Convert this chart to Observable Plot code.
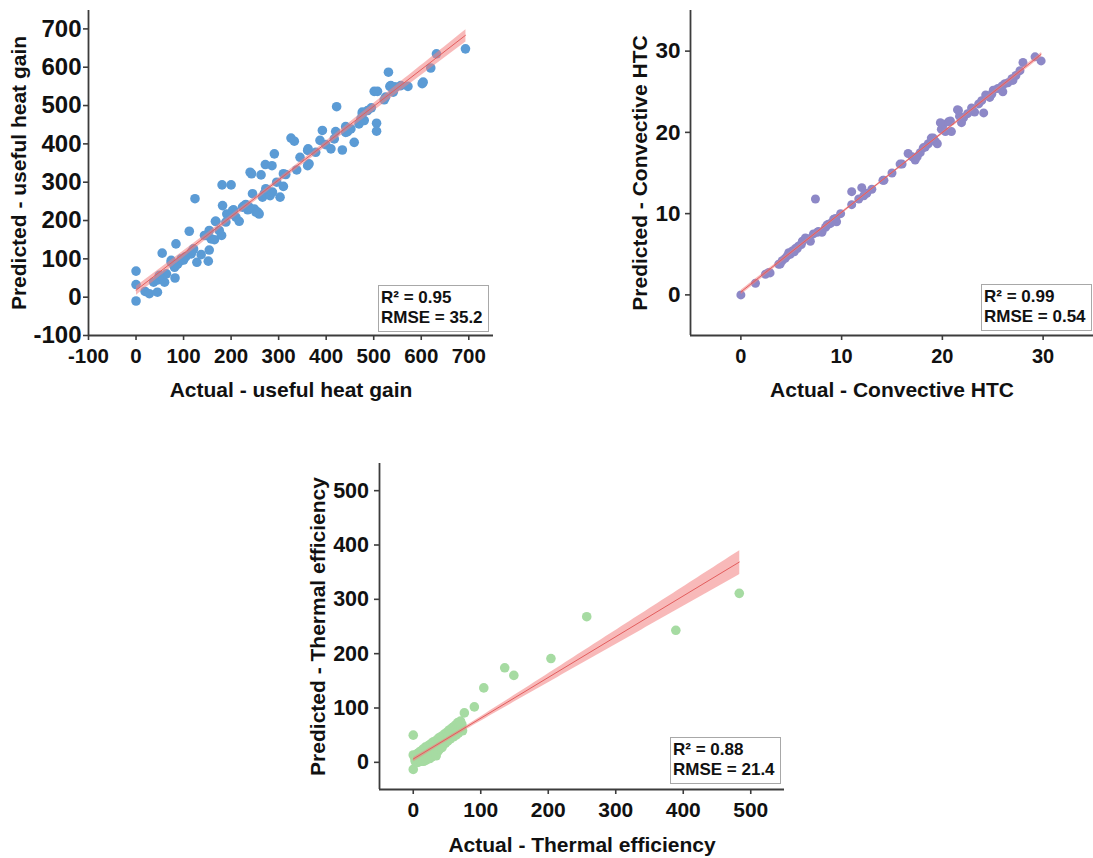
<!DOCTYPE html>
<html>
<head>
<meta charset="utf-8">
<script src="https://cdn.jsdelivr.net/npm/d3@7"></script>
<script src="https://cdn.jsdelivr.net/npm/@observablehq/plot@0.6"></script>
<style>
  html, body { margin: 0; padding: 0; background: #fff; }
  #figure { position: relative; width: 1093px; height: 858px; background: #fff; overflow: hidden; }
  .panel { position: absolute; }
  .panel svg { overflow: visible; }
  .stat {
    position: absolute; box-sizing: border-box; background: #fff;
    border: 1px solid #a8a8a8; padding: 2px 0 0 2px;
    font: bold 17px "Liberation Sans", Arial, sans-serif; line-height: 20px; color: #111;
    white-space: nowrap;
  }
</style>
</head>
<body>
<div id="figure"></div>
<script>
// Useful heat gain: actual vs predicted
const heatActual = [0, 0, 0, 19, 28, 45, 37, 46, 55, 51, 60, 64, 74, 82, 84, 81, 88, 95, 102, 100, 112, 116, 121, 124, 128, 137, 144, 152, 154, 154, 158, 165, 167, 175, 180, 182, 181, 189, 191, 200, 200, 205, 210, 217, 224, 231, 235, 240, 243, 245, 249, 252, 259, 263, 266, 270, 272, 277, 282, 286, 287, 291, 296, 303, 310, 315, 326, 333, 338, 345, 361, 361, 364, 378, 387, 392, 399, 410, 417, 420, 422, 434, 441, 445, 452, 459, 469, 473, 476, 480, 487, 495, 501, 508, 506, 506, 522, 525, 531, 534, 541, 546, 557, 572, 602, 604, 620, 632, 693,
  49, 74, 84, 95, 105, 116, 119, 147, 168, 203, 228, 238, 256, 273, 310, 543, 536, 476, 441, 362];
const heatPredicted = [68, 33, -10, 15, 9, 13, 39, 45, 115, 56, 39, 61, 91, 50, 139, 78, 87, 96, 104, 97, 172, 113, 126, 257, 91, 111, 161, 94, 123, 174, 152, 150, 198, 174, 161, 239, 293, 196, 217, 293, 217, 228, 209, 198, 235, 242, 228, 326, 322, 270, 230, 222, 217, 319, 261, 271, 346, 278, 265, 343, 274, 374, 300, 261, 289, 320, 415, 407, 332, 365, 383, 343, 348, 378, 409, 435, 398, 387, 413, 432, 497, 384, 445, 432, 439, 404, 452, 465, 478, 461, 487, 494, 537, 537, 454, 433, 515, 522, 587, 550, 535, 548, 552, 550, 557, 561, 598, 635, 648,
  57, 96, 83, 100, 106, 117, 122, 161, 198, 226, 239, 235, 222, 283, 322, 548, 552, 483, 430, 387];

// Convective heat transfer coefficient: actual vs predicted
const htcActual = [0, 1.45, 2.44, 2.77, 3.76, 4.1, 4.4, 4.75, 5.1, 5.4, 5.7, 6.1, 6.4, 6.9, 7.2, 7.4, 7.7, 8.05, 8.4, 8.7, 9.2, 9.5, 9.9, 11.0, 11.0, 11.7, 12.0, 12.2, 12.5, 13.0, 14.1, 15.0, 16.0, 16.6, 17.0, 17.3, 17.8, 18.1, 18.6, 18.9, 19.3, 19.5, 19.9, 20.1, 20.3, 20.6, 20.9, 21.5, 21.7, 21.9, 22.1, 22.9, 23.2, 23.6, 23.9, 24.1, 24.3, 24.7, 25.05, 25.5, 25.9, 26.0, 26.5, 26.9, 27.0, 27.7, 28.0, 29.2, 29.8,
  2.9, 3.9, 4.6, 4.9, 5.3, 5.6, 6.0, 6.7, 7.6, 8.55, 8.9, 9.4, 14.2, 21.6, 19.8, 20.8, 19.1, 15.8, 17.5, 18.3, 22.5, 24.9, 26.2, 27.3];
const htcPredicted = [0, 1.43, 2.54, 2.75, 3.77, 4.2, 4.5, 5.2, 5.4, 5.7, 6.0, 6.6, 7.0, 6.6, 7.5, 11.8, 7.8, 7.7, 8.3, 8.7, 9.3, 9.0, 10.0, 11.1, 12.7, 11.8, 13.2, 12.2, 12.5, 13.0, 14.1, 15.0, 16.1, 17.4, 17.0, 16.6, 17.5, 18.1, 18.6, 19.3, 18.9, 18.6, 20.4, 21.0, 20.1, 21.3, 20.1, 22.8, 22.0, 21.2, 21.8, 23.0, 22.5, 23.5, 23.9, 22.4, 24.6, 24.3, 25.2, 25.4, 25.7, 25.0, 26.1, 26.6, 26.4, 27.6, 28.6, 29.3, 28.8,
  2.7, 3.8, 4.8, 5.0, 5.3, 5.7, 6.2, 6.9, 7.7, 8.6, 8.8, 9.4, 14.1, 22.7, 21.2, 21.4, 19.3, 16.1, 17.0, 18.2, 22.3, 24.7, 26.0, 27.0];

// Thermal efficiency: actual vs predicted
const effActual = [0, 0, 0, 75.7, 90.5, 104.5, 135.5, 149, 204, 257, 389, 483,
  2.5, 4, 5.5, 6, 7.5, 8, 9.5, 10, 11, 12.5, 13, 14, 14.5, 16, 16.5, 17.5, 18, 19.5, 20, 21, 22.5, 23, 24, 25.5, 26, 27, 28.5, 29, 30, 31.5, 32, 33, 34.5, 35, 36, 37.5, 38, 39, 40.5, 41, 42, 43.5, 44, 45, 46, 47.5, 48, 49, 50.5, 51, 52, 53.5, 54, 55, 56.5, 57, 58, 59.5, 60, 61, 62, 63.5, 64, 65, 66, 67, 68.5, 69, 70, 71.5, 72, 73,
  3, 5, 6.5, 8.5, 9, 11.5, 12, 13.5, 15, 15.5, 17, 18.5, 19, 20.5, 21.5, 23.5, 24.5, 25, 26.5, 27.5, 28, 30.5, 31, 32.5, 34, 35.5, 36.5, 38.5, 40, 42.5];
const effPredicted = [50, 13.5, -13, 91, 102, 137, 174, 160, 191, 268, 243, 311,
  6, 11, 3, 16, 8, 1, 13, 20, 6, 2, 17, 24, 9, 4, 21, 13, 28, 7, 24, 17, 31, 11, 26, 20, 34, 15, 29, 23, 38, 19, 33, 27, 41, 24, 36, 30, 45, 27, 39, 34, 48, 31, 43, 37, 52, 35, 47, 41, 56, 39, 50, 45, 60, 43, 54, 48, 64, 47, 58, 52, 68, 50, 62, 56, 73, 54, 66, 60, 76, 63, 70, 58,
  2, 7, 0, 5, 10, 3, 12, 6, 10, 2, 8, 15, 4, 12, 9, 16, 7, 22, 14, 10, 20, 15, 27, 18, 12, 28, 20, 24, 30, 27];

const heatTicks = [-100, 0, 100, 200, 300, 400, 500, 600, 700];
const htcTicks = [0, 10, 20, 30];
const effTicks = [0, 100, 200, 300, 400, 500];

const FONT = '"Liberation Sans", Arial, Helvetica, sans-serif';
const SPINE = "#3c3c3c";

function scatterPanel(cfg) {
  const rows = cfg.actual.map((a, i) => ({actual: a, predicted: cfg.predicted[i]}));
  return Plot.plot({
    width: cfg.width,
    height: cfg.height,
    marginLeft: cfg.margin[0],
    marginTop: cfg.margin[1],
    marginRight: cfg.margin[2],
    marginBottom: cfg.margin[3],
    x: {domain: cfg.xDomain},
    y: {domain: cfg.yDomain},
    style: {fontFamily: FONT, fontWeight: "bold", color: "#111", background: "transparent", overflow: "visible"},
    marks: [
      Plot.dot(rows, {x: "actual", y: "predicted", r: cfg.r, fill: cfg.color, stroke: "none"}),
      Plot.linearRegressionY(rows, {x: "actual", y: "predicted", stroke: "#e35d5d", strokeWidth: 1, fill: "#f27f7f", fillOpacity: 0.55}),
      Plot.ruleX([cfg.xDomain[0]], {stroke: SPINE, strokeWidth: 1.8}),
      Plot.ruleY([cfg.yDomain[0]], {stroke: SPINE, strokeWidth: 1.8}),
      Plot.axisX(cfg.ticks, {tickSize: 5, tickPadding: 8, fontSize: cfg.xFont, fontWeight: "bold", label: null,
        tickFormat: d => String(d), stroke: SPINE, strokeWidth: 1.6, fill: "#111"}),
      Plot.axisY(cfg.ticks, {tickSize: 5, tickPadding: cfg.yPad, fontSize: cfg.yFont, fontWeight: "bold", label: null,
        tickFormat: d => String(d), stroke: SPINE, strokeWidth: 1.6, fill: "#111"}),
      Plot.text([cfg.xLabel], {text: d => d, frameAnchor: "bottom", textAnchor: "middle", lineAnchor: "middle",
        dy: cfg.xTitleDy, fontSize: 21, fontWeight: "bold", fill: "#111"}),
      Plot.text([cfg.yLabel], {text: d => d, frameAnchor: "left", textAnchor: "middle", lineAnchor: "middle",
        rotate: -90, dx: cfg.yTitleDx, fontSize: 21, fontWeight: "bold", fill: "#111"})
    ]
  });
}

function place(node, left, top) {
  const wrap = document.createElement("div");
  wrap.className = "panel";
  wrap.style.left = left + "px";
  wrap.style.top = top + "px";
  wrap.append(node);
  document.getElementById("figure").append(wrap);
}

function statBox(r2, rmse, left, top) {
  const box = document.createElement("div");
  box.className = "stat";
  box.style.left = left + "px";
  box.style.top = top + "px";
  box.style.width = "111px";
  box.style.height = "47px";
  box.innerHTML = "R\u00B2 = " + r2 + "<br>RMSE = " + rmse;
  document.getElementById("figure").append(box);
}

place(scatterPanel({
  actual: heatActual, predicted: heatPredicted, color: "#5b9bd5", r: 4.8,
  width: 500, height: 410, margin: [88, 10, 7, 75],
  xDomain: [-100, 752], yDomain: [-100, 748], ticks: heatTicks,
  xFont: 20.5, yFont: 24, yPad: 2,
  xLabel: "Actual - useful heat gain", yLabel: "Predicted - useful heat gain",
  xTitleDy: 55, yTitleDx: -69
}), 0, 0);

place(scatterPanel({
  actual: htcActual, predicted: htcPredicted, color: "#8d88c7", r: 4.5,
  width: 493, height: 410, margin: [90, 10, 0, 75],
  xDomain: [-5, 35], yDomain: [-5, 35], ticks: htcTicks,
  xFont: 20, yFont: 22.5, yPad: 5,
  xLabel: "Actual - Convective HTC", yLabel: "Predicted - Convective HTC",
  xTitleDy: 55, yTitleDx: -50
}), 600, 0);

place(scatterPanel({
  actual: effActual, predicted: effPredicted, color: "#a6dba2", r: 4.8,
  width: 490, height: 408, margin: [79, 13, 6, 69],
  xDomain: [-50, 550], yDomain: [-50, 550], ticks: effTicks,
  xFont: 21, yFont: 21.5, yPad: 5.5,
  xLabel: "Actual - Thermal efficiency", yLabel: "Predicted - Thermal efficiency",
  xTitleDy: 56, yTitleDx: -61.5
}), 300, 450);

statBox("0.95", "35.2", 378, 285);
statBox("0.99", "0.54", 981, 284);
statBox("0.88", "21.4", 670, 737);
</script>
</body>
</html>
